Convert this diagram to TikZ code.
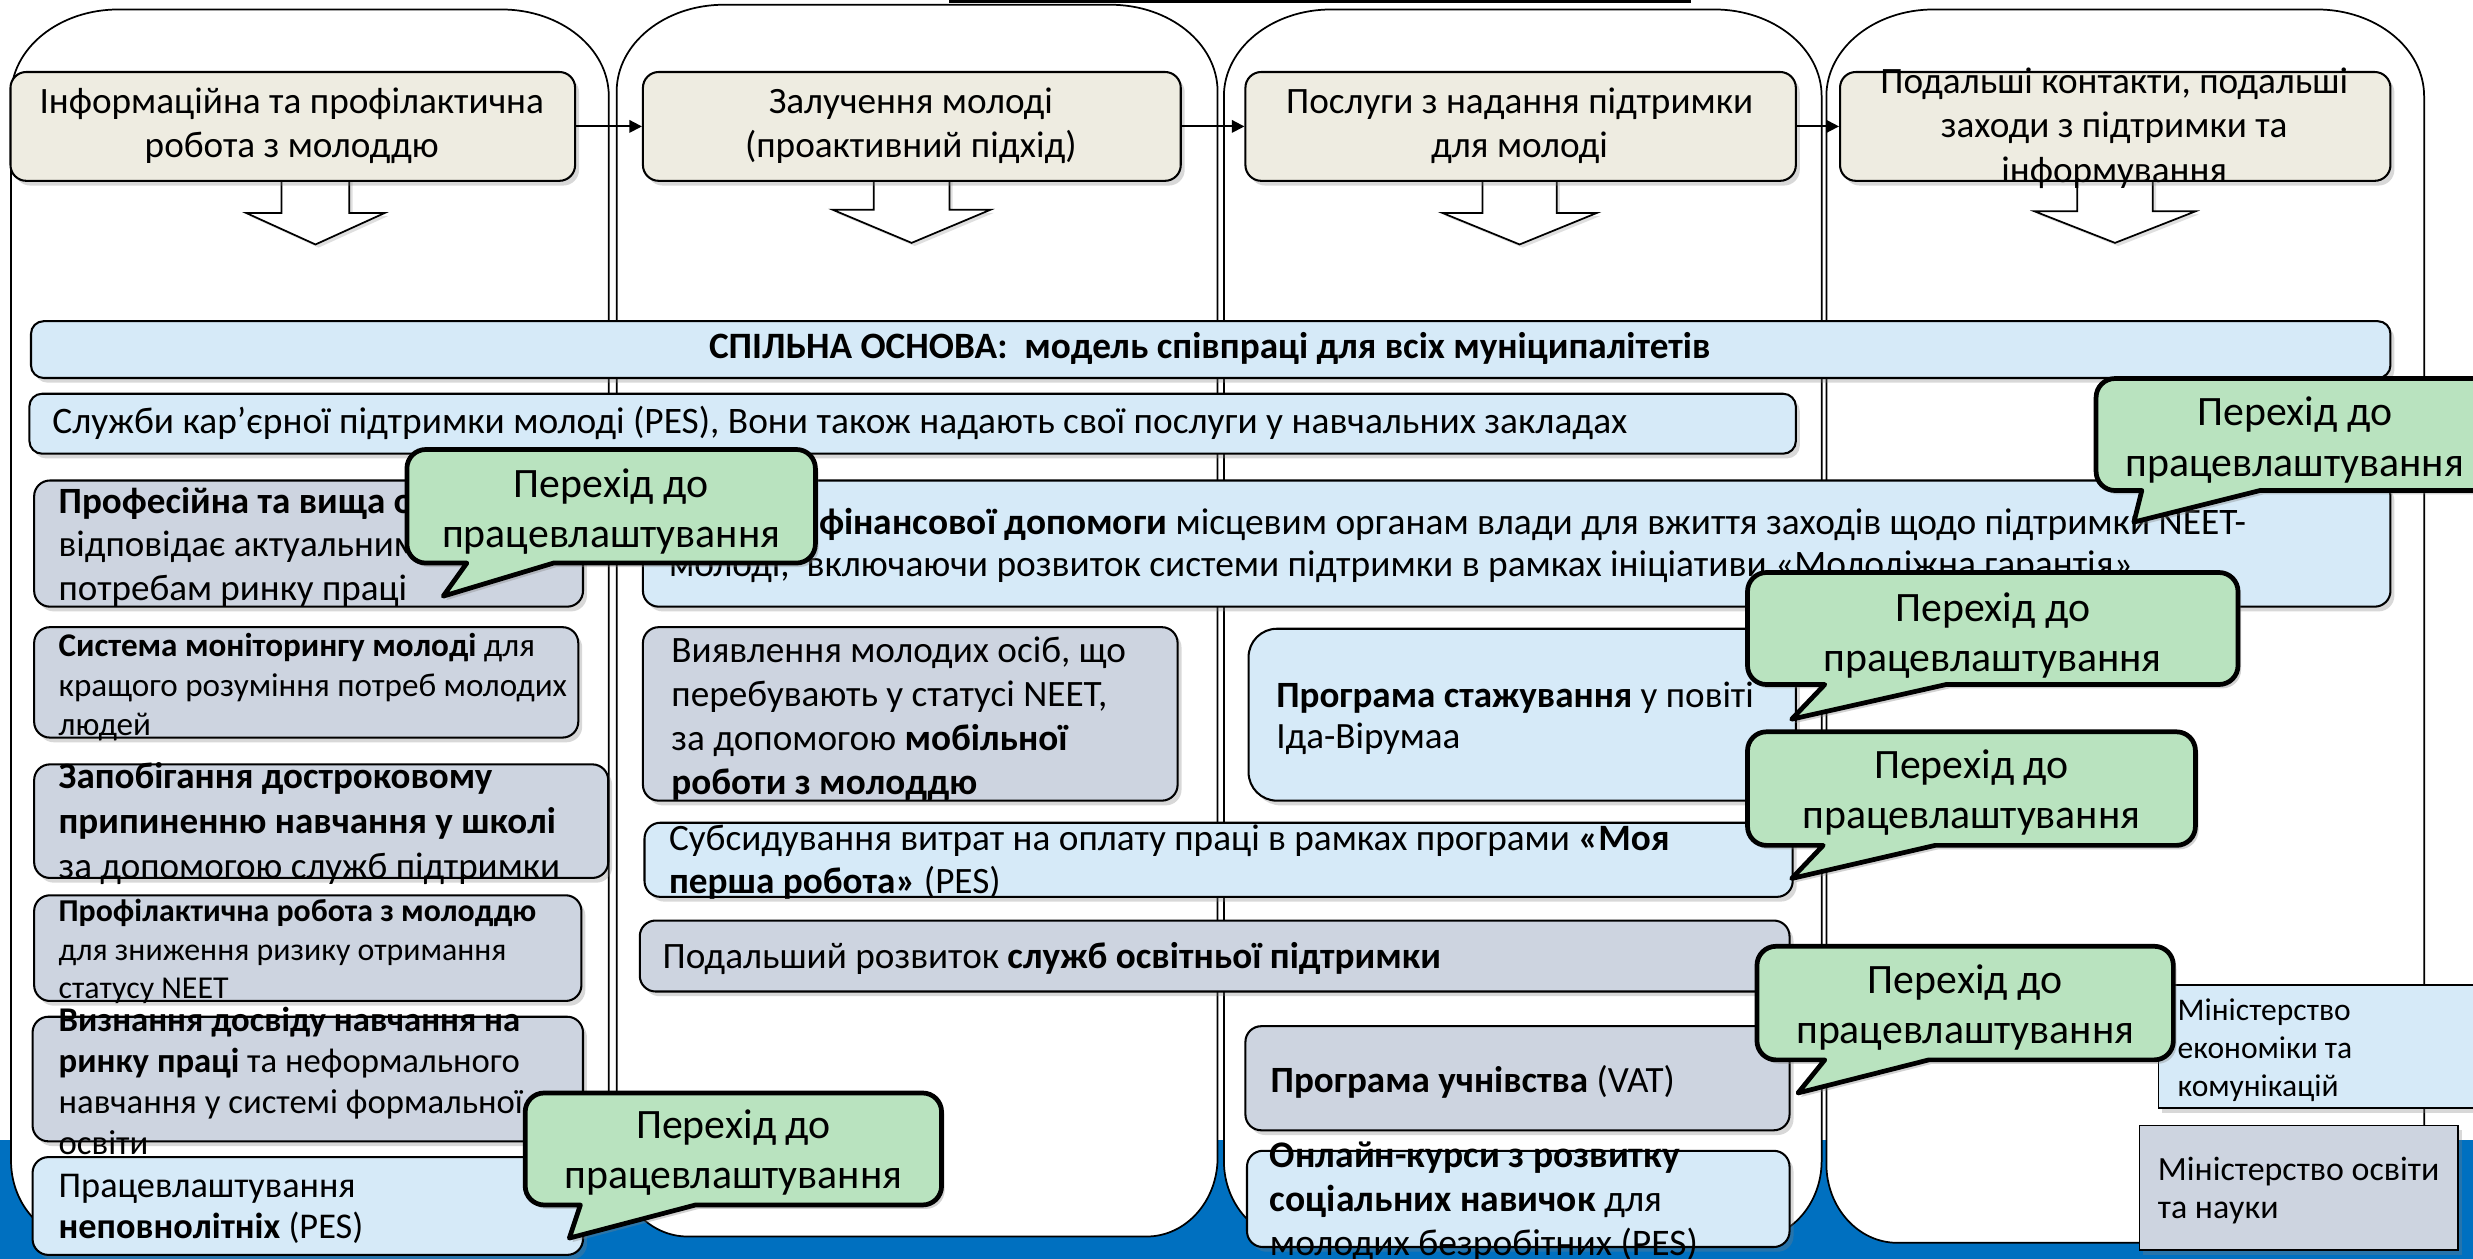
\documentclass[tikz,border=0pt]{standalone}
\usepackage{fontspec}
\setmainfont{Carlito}
\usetikzlibrary{shadows,arrows.meta}
\definecolor{beige}{RGB}{238,236,225}
\definecolor{lblue}{RGB}{214,234,248}
\definecolor{gblue}{RGB}{205,212,224}
\definecolor{cgreen}{RGB}{185,227,191}
\definecolor{band}{RGB}{0,112,192}
\newcommand{\fsz}[2]{\fontsize{#1pt}{#2pt}\selectfont}
% callout: name, x1, y1, x2, y2, base-left x, base-right x, tip, text centre y
\newcommand{\callout}[9]{%
  \path[callbox] (#8) -- (#6,#5) -- ({#2+12},#5) arc[start angle=270,end angle=180,radius=12pt]
    -- (#2,{#3+12}) arc[start angle=180,end angle=90,radius=12pt]
    -- ({#4-12},#3) arc[start angle=90,end angle=0,radius=12pt]
    -- (#4,{#5-12}) arc[start angle=0,end angle=-90,radius=12pt]
    -- (#7,#5) -- cycle;
  \node[ctx, font=\fsz{26.5}{32}] (#1) at ({(#2+#4)/2},#9) {Перехід до\\працевлаштування};}
\begin{document}
\begin{tikzpicture}[x=1pt,y=-1pt,
  box/.style={draw=black, line width=1.3pt, rounded corners=10pt, inner sep=0pt, anchor=north west,
    drop shadow={shadow xshift=2.5pt, shadow yshift=-3pt, opacity=.3}},
  hdr/.style={box, fill=beige},
  lbx/.style={box, fill=lblue},
  gbx/.style={box, fill=gblue},
  tx/.style={inner sep=0pt, align=left, anchor=west, execute at begin node=\strut, execute at end node=\strut},
  ctx/.style={tx, align=center, anchor=center},
  lane/.style={draw=black, line width=1.1pt, fill=white},
  barrow/.style={draw=black, line width=1.1pt, fill=white, line join=miter,
    drop shadow={shadow xshift=2pt, shadow yshift=-2pt, opacity=.25}},
  conn/.style={-{Triangle[length=8pt,width=8pt]}, line width=1.2pt},
  callbox/.style={draw=black, line width=3pt, fill=cgreen, line join=round,
    drop shadow={shadow xshift=2pt, shadow yshift=-2.5pt, opacity=.35}}
]
\useasboundingbox (0,0) rectangle (1568,798);
\fill[white] (0,0) rectangle (1568,798);
% blue band
\fill[band] (0,723) rectangle (1568,798);
% title underline (cut off at top)
\draw[line width=2.5pt] (602,0.8) -- (1072,0.8);
% lanes
\newcommand{\lanepath}[4]{%
  \path[lane] (#1,{#3+55}) arc[start angle=180,end angle=90,x radius=68pt,y radius=55pt]
    -- ({#2-68},#3) arc[start angle=90,end angle=0,x radius=68pt,y radius=55pt]
    -- (#2,{#4-50}) arc[start angle=0,end angle=-90,x radius=45pt,y radius=50pt]
    -- ({#1+45},#4) arc[start angle=270,end angle=180,x radius=45pt,y radius=50pt] -- cycle;}
\lanepath{7}{386}{6}{786}
\lanepath{391}{772}{3}{784}
\lanepath{776}{1155}{6}{786}
\lanepath{1158}{1537}{6}{788}
% block arrows
\newcommand{\blockarrow}[5]{%
  \path[barrow] ({#1-#2},112) -- ({#1-#2},#4) -- ({#1-#3},#4) -- (#1,#5) -- ({#1+#3},#4) -- ({#1+#2},#4) -- ({#1+#2},112) -- cycle;}
\blockarrow{200}{21.5}{44}{135}{155}
\blockarrow{578}{24}{50}{133}{154}
\blockarrow{963.5}{23.5}{49}{135}{155}
\blockarrow{1341}{24}{51}{134}{154}
% headers
\node[hdr, minimum width=358pt, minimum height=69pt] (h1) at (6,45) {};
\node[hdr, minimum width=341pt, minimum height=69pt] (h2) at (407,45) {};
\node[hdr, minimum width=349pt, minimum height=69pt] (h3) at (789,45) {};
\node[hdr, minimum width=349pt, minimum height=69pt] (h4) at (1166,45) {};
\node[ctx, font=\fsz{23.6}{27.5}] (h1t) at (185,82) {Інформаційна та профілактична\\робота з молоддю};
\node[ctx, font=\fsz{23.6}{27.5}] (h2t) at (577.5,82) {Залучення молоді\\(проактивний підхід)};
\node[ctx, font=\fsz{23.6}{27.5}] (h3t) at (963.5,82) {Послуги з надання підтримки\\для молоді};
\node[ctx, font=\fsz{23.6}{28}] (h4t) at (1340.5,83.5) {Подальші контакти, подальші\\заходи з підтримки та\\інформування};
\draw[conn] (h1) -- (h2);
\draw[conn] (h2) -- (h3);
\draw[conn] (h3) -- (h4);
% common bars
\node[lbx, rounded corners=8pt, minimum width=1496pt, minimum height=36pt] (base) at (19,203) {};
\node[ctx, font=\fsz{23.6}{28}\bfseries] (baset) at (767,221.5) {СПІЛЬНА ОСНОВА:~ модель співпраці для всіх муніципалітетів};
\node[lbx, rounded corners=8pt, minimum width=1120pt, minimum height=38pt] (serv) at (18,249) {};
\node[tx, font=\fsz{23.7}{28}] (servt) at (33,269) {Служби кар’єрної підтримки молоді (PES), Вони також надають свої послуги у навчальних закладах};
% left column
\node[gbx, minimum width=348pt, minimum height=80pt] (l1) at (21,304) {};
\node[tx, font=\fsz{23.5}{27.5}] (l1t) at (37,349) {\textbf{Професійна та вища освіта}\\відповідає актуальним\\потребам ринку праці};
\node[gbx, minimum width=345pt, minimum height=70pt] (l2) at (21,397) {};
\node[tx, font=\fsz{21}{25}] (l2t) at (37,437.8) {\textbf{Система моніторингу молоді} для\\кращого розуміння потреб молодих\\людей};
\node[gbx, minimum width=364pt, minimum height=72pt] (l3) at (21,484) {};
\node[tx, font=\fsz{23.5}{28.5}] (l3t) at (37,524.3) {\textbf{Запобігання достроковому}\\\textbf{припиненню навчання у школі}\\за допомогою служб підтримки};
\node[gbx, minimum width=347pt, minimum height=67pt] (l4) at (21,567) {};
\node[tx, font=\fsz{20.2}{24.5}] (l4t) at (37,605.4) {\textbf{Профілактична робота з молоддю}\\для зниження ризику отримання\\статусу NEET};
\node[gbx, minimum width=349pt, minimum height=79pt] (l5) at (20,644) {};
\node[tx, font=\fsz{22}{26}] (l5t) at (37,689) {\textbf{Визнання досвіду навчання на}\\\textbf{ринку праці} та неформального\\навчання у системі формальної\\освіти};
\node[lbx, minimum width=349pt, minimum height=62pt] (l6) at (20,733) {};
\node[tx, font=\fsz{23}{26.5}] (l6t) at (37,768.8) {Працевлаштування\\\textbf{неповнолітніх} (PES)};
% middle column
\node[lbx, minimum width=1108pt, minimum height=80pt] (m1) at (407,304) {};
\node[tx, font=\fsz{23.7}{27}] (m1t) at (424,348) {\textbf{Надання фінансової допомоги} місцевим органам влади для вжиття заходів щодо підтримки NEET-\\молоді,~ включаючи розвиток системи підтримки в рамках ініціативи «Молодіжна гарантія»};
\node[gbx, minimum width=339pt, minimum height=110pt] (m2) at (407,397) {};
\node[tx, font=\fsz{23.6}{28}] (m2t) at (425.5,458) {Виявлення молодих осіб, що\\перебувають у статусі NEET,\\за допомогою \textbf{мобільної}\\\textbf{роботи з молоддю}};
\node[lbx, minimum width=728pt, minimum height=47pt] (m3) at (408,521) {};
\node[tx, font=\fsz{23.6}{27.5}] (m3t) at (424,549) {Субсидування витрат на оплату праці в рамках програми \textbf{«Моя}\\\textbf{перша робота»} (PES)};
\node[gbx, minimum width=729pt, minimum height=45pt] (m4) at (405,583) {};
\node[tx, font=\fsz{23.6}{28}] (m4t) at (420,608.5) {Подальший розвиток \textbf{служб освітньої підтримки}};
% right column
\node[lbx, rounded corners=18pt, minimum width=347pt, minimum height=109pt] (r1) at (791,398) {};
\node[tx, font=\fsz{23.5}{26}] (r1t) at (809,457.5) {\textbf{Програма стажування} у повіті\\Іда-Вірумаа};
\node[gbx, minimum width=345pt, minimum height=66pt] (r2) at (789,650) {};
\node[tx, font=\fsz{23.5}{28}] (r2t) at (805.5,687) {\textbf{Програма учнівства} (VAT)};
\node[lbx, minimum width=344pt, minimum height=61pt] (r3) at (790,729) {};
\node[tx, font=\fsz{23.8}{28}] (r3t) at (805,764) {\textbf{Онлайн-курси з розвитку}\\\textbf{соціальних навичок} для\\молодих безробітних (PES)};
% ministries
\node[lbx, rounded corners=0pt, line width=1pt, minimum width=232pt, minimum height=78pt] (mn1) at (1368,624) {};
\node[tx, font=\fsz{20}{24.3}] (mn1t) at (1380.5,668) {Міністерство\\економіки та\\комунікацій};
\node[gbx, rounded corners=0pt, line width=1pt, minimum width=202pt, minimum height=79pt] (mn2) at (1356,713) {};
\node[tx, font=\fsz{21.5}{24}] (mn2t) at (1368,757) {Міністерство освіти\\та науки};
% callouts
\callout{c1}{258}{285}{517}{357}{296}{351}{281,378}{327}
\callout{c2}{1329}{240}{1581}{311}{1358}{1433}{1353,331}{281.5}
\callout{c3}{1108}{363}{1419}{434}{1157}{1234}{1136,456}{405.5}
\callout{c4}{1108}{464}{1392}{536}{1156}{1227}{1136,557}{505}
\callout{c5}{1114}{600}{1378}{672}{1157}{1223}{1140,693}{641.5}
\callout{c6}{333}{693}{597}{764}{368}{441}{361,785}{733.5}
\end{tikzpicture}
\end{document}
